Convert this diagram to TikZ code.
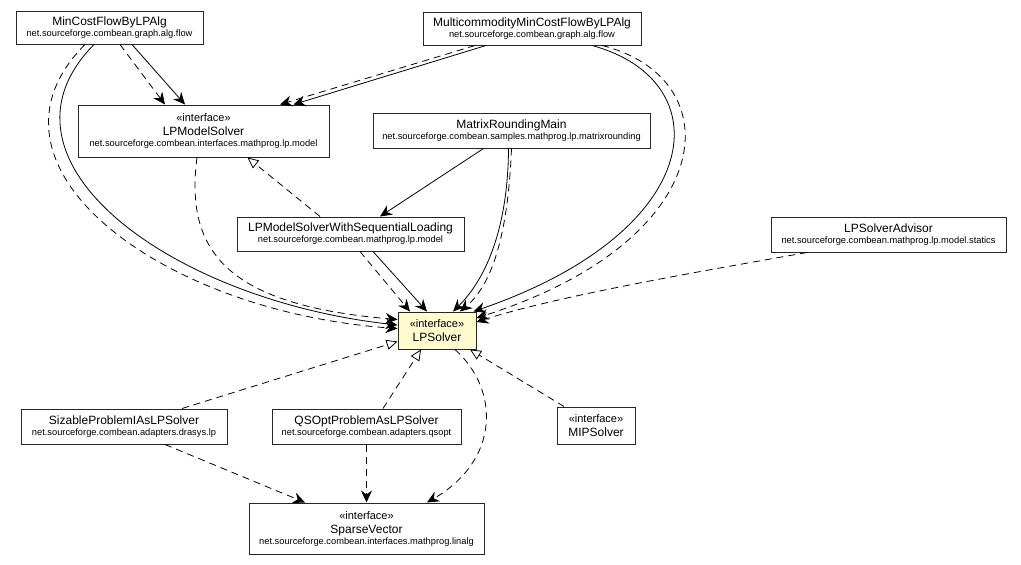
\documentclass[tikz,border=0pt]{standalone}
\usepackage{fontspec}
\setmainfont{Liberation Sans}
\usetikzlibrary{arrows.meta}
\definecolor{ifaceyellow}{RGB}{255,251,206}
\newcommand{\cname}[1]{{\fontsize{12}{11}\selectfont #1}}
\newcommand{\iface}{{\fontsize{11}{11}\selectfont «interface»}\\[3pt]}
\tikzset{
  cls/.style={draw=black!85, line width=1pt, fill=white, align=center, inner sep=0pt, font=\fontsize{9.3}{11}\selectfont},
  dep/.style={line width=0.8pt, dash pattern=on 7pt off 5pt, -{Stealth[length=12pt,width=11pt,inset=4pt]}},
  nav/.style={line width=0.8pt, -{Stealth[length=12pt,width=11pt,inset=4pt]}},
  impl/.style={line width=0.8pt, dash pattern=on 7pt off 5pt, -{Triangle[open,fill=white,length=11pt,width=10pt]}}
}
\begin{document}
\begin{tikzpicture}[x=1pt,y=-1pt]
\useasboundingbox (0,0) rectangle (1021,565);

\node[cls, minimum width=187pt, minimum height=33pt] (mincost) at (109.5,27.5) {\cname{MinCostFlowByLPAlg}\\net.sourceforge.combean.graph.alg.flow};
\node[cls, minimum width=218pt, minimum height=33pt] (multi) at (532,28.5) {\cname{MulticommodityMinCostFlowByLPAlg}\\net.sourceforge.combean.graph.alg.flow};
\node[cls, minimum width=251pt, minimum height=52pt] (lpmodel) at (203.5,131) {\iface\cname{LPModelSolver}\\net.sourceforge.combean.interfaces.mathprog.lp.model};
\node[cls, minimum width=277pt, minimum height=35pt] (matrix) at (511.5,130.5) {\cname{MatrixRoundingMain}\\net.sourceforge.combean.samples.mathprog.lp.matrixrounding};
\node[cls, minimum width=227pt, minimum height=34pt] (seq) at (350.5,234) {\cname{LPModelSolverWithSequentialLoading}\\net.sourceforge.combean.mathprog.lp.model};
\node[cls, minimum width=235pt, minimum height=35pt] (advisor) at (888.5,234.5) {\cname{LPSolverAdvisor}\\net.sourceforge.combean.mathprog.lp.model.statics};
\node[cls, fill=ifaceyellow, minimum width=78pt, minimum height=37pt] (lpsolver) at (437,330.5) {\iface\cname{LPSolver}};
\node[cls, minimum width=206pt, minimum height=35pt] (sizable) at (124,426.5) {\cname{SizableProblemIAsLPSolver}\\net.sourceforge.combean.adapters.drasys.lp};
\node[cls, minimum width=189pt, minimum height=35pt] (qsopt) at (366.5,426.5) {\cname{QSOptProblemAsLPSolver}\\net.sourceforge.combean.adapters.qsopt};
\node[cls, minimum width=78pt, minimum height=37pt] (mip) at (596,425.5) {\iface\cname{MIPSolver}};
\node[cls, minimum width=235pt, minimum height=51pt] (sparse) at (366.5,528.5) {\iface\cname{SparseVector}\\net.sourceforge.combean.interfaces.mathprog.linalg};

\draw[dep] ([xshift=10.5pt]mincost.south) -- ([xshift=-38.5pt]lpmodel.north);
\draw[nav] ([xshift=22.5pt]mincost.south) -- ([xshift=-18.5pt]lpmodel.north);
\draw[nav] ([xshift=-15.5pt]mincost.south) .. controls (-20,160) and (170,300) .. ([yshift=5.5pt]lpsolver.west);
\draw[dep] ([xshift=-24.5pt]mincost.south) .. controls (-35,165) and (160,312) .. ([yshift=2pt]lpsolver.west);
\draw[dep] ([xshift=-57pt]multi.south) -- ([xshift=76.5pt]lpmodel.north);
\draw[nav] ([xshift=-46pt]multi.south) -- ([xshift=90pt]lpmodel.north);
\draw[nav] ([xshift=60pt]multi.south) .. controls (720,80) and (710,230) .. ([xshift=-3pt]lpsolver.north east);
\draw[dep] ([xshift=70pt]multi.south) .. controls (732,78) and (722,240) .. ([yshift=12.5pt]lpsolver.east);
\draw[nav] ([xshift=-28pt]matrix.south) -- ([xshift=29.5pt]seq.north);
\draw[nav] ([xshift=-3pt]matrix.south) .. controls (508,230) and (485,280) .. ([xshift=16pt]lpsolver.north);
\draw[dep] (matrix.south) .. controls (508,235) and (492,285) .. ([xshift=23pt]lpsolver.north);
\draw[impl] ([xshift=-30.5pt]seq.north) -- ([xshift=44pt]lpmodel.south);
\draw[dep] ([xshift=-6.5pt]lpmodel.south) .. controls (185,250) and (225,305) .. ([yshift=11pt]lpsolver.west);
\draw[dep] ([xshift=9.5pt]seq.south) -- ([xshift=-27pt]lpsolver.north);
\draw[nav] ([xshift=22.5pt]seq.south) -- ([xshift=-10pt]lpsolver.north);
\draw[dep] ([xshift=-81.5pt]advisor.south) .. controls (720,268) and (560,295) .. ([yshift=8.5pt]lpsolver.east);
\draw[impl] ([xshift=58pt]sizable.north) -- ([yshift=8pt]lpsolver.south west);
\draw[impl] ([xshift=16.5pt]qsopt.north) -- ([xshift=-16pt]lpsolver.south);
\draw[impl] ([xshift=-32pt]mip.north) -- ([xshift=33pt]lpsolver.south);
\draw[dep] ([xshift=41pt]sizable.south) -- ([xshift=-61.5pt]sparse.north);
\draw[dep] (qsopt.south) -- (sparse.north);
\draw[dep] ([xshift=18pt]lpsolver.south) .. controls (500,390) and (500,460) .. ([xshift=60.5pt]sparse.north);
\end{tikzpicture}
\end{document}
